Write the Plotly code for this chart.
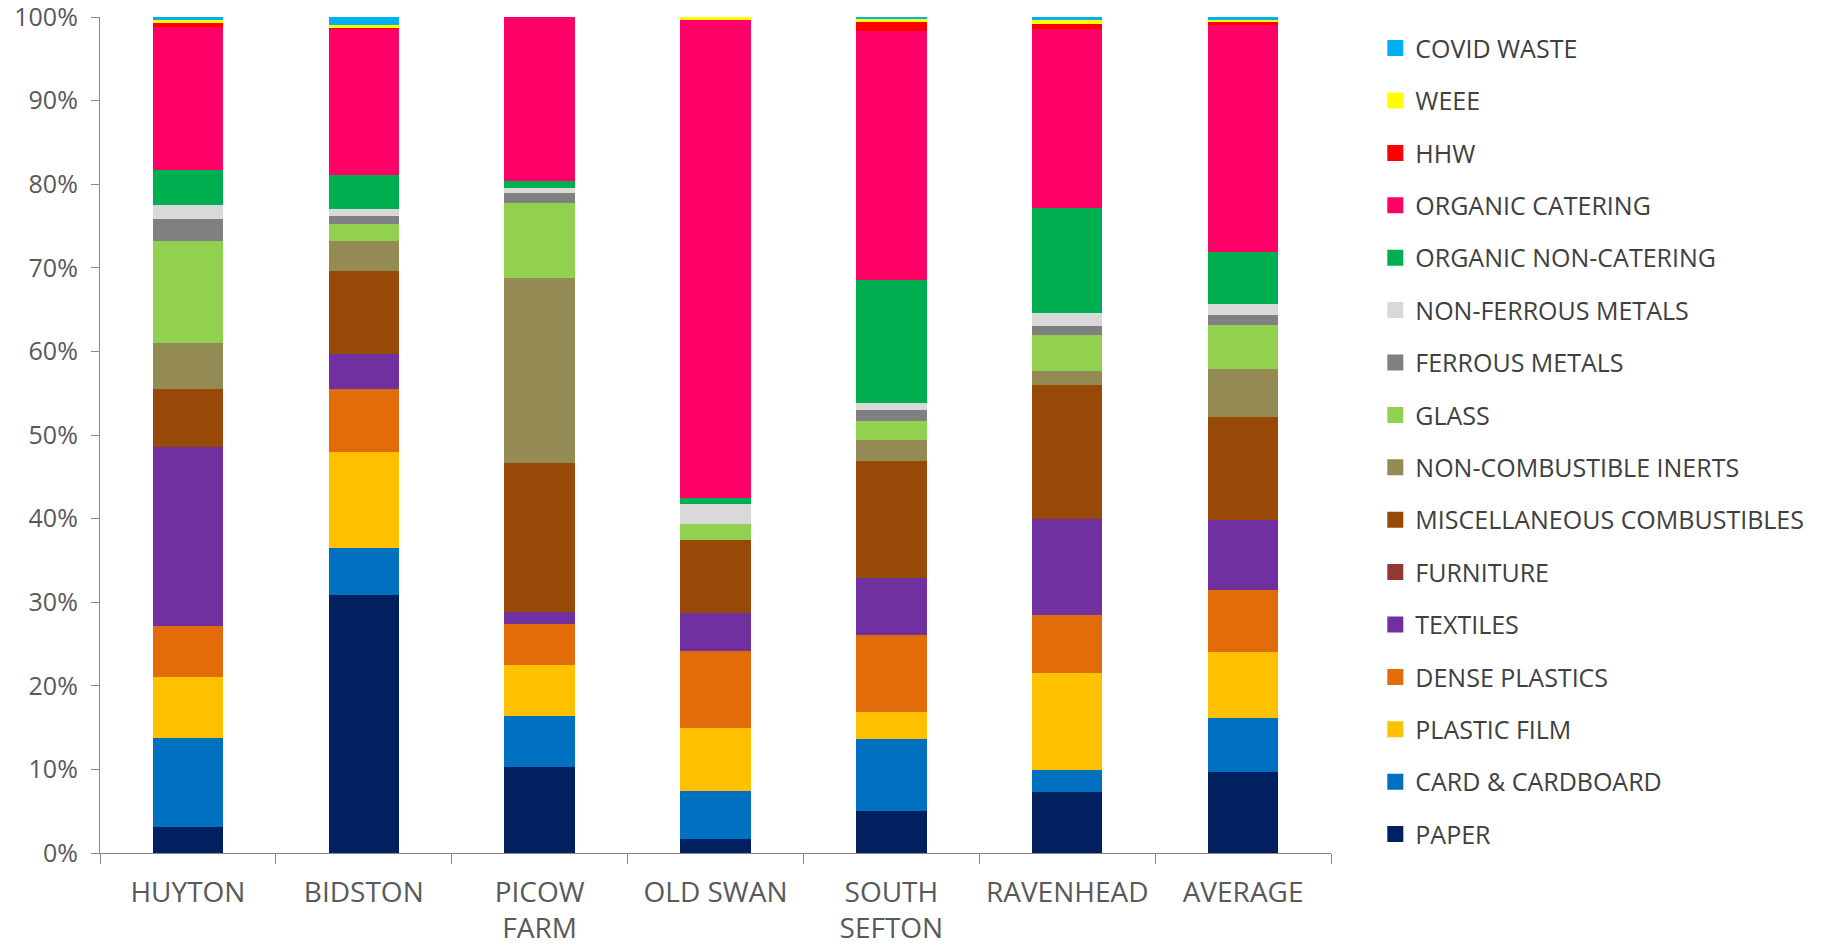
import plotly.graph_objects as go

# Sites along the x axis
sites = ["HUYTON", "BIDSTON", "PICOW<br>FARM", "OLD SWAN", "SOUTH<br>SEFTON", "RAVENHEAD", "AVERAGE"]

# Composition (% of sample) per waste category, one value per site
paper              = [3.1, 30.9, 10.3, 1.7, 5.0, 7.3, 9.7]
card_cardboard     = [10.6, 5.6, 6.1, 5.7, 8.6, 2.6, 6.5]
plastic_film       = [7.4, 11.5, 6.1, 7.5, 3.3, 11.6, 7.9]
dense_plastics     = [6.1, 7.5, 4.9, 9.3, 9.2, 7.0, 7.4]
textiles           = [21.4, 4.2, 1.4, 4.5, 6.8, 11.4, 8.3]
furniture          = [0.0, 0.0, 0.0, 0.0, 0.0, 0.0, 0.0]
misc_combustibles  = [6.9, 9.9, 17.9, 8.8, 14.0, 16.1, 12.3]
non_comb_inerts    = [5.5, 3.6, 22.1, 0.0, 2.5, 1.7, 5.8]
glass              = [12.2, 2.0, 8.9, 1.9, 2.3, 4.3, 5.3]
ferrous_metals     = [2.6, 1.0, 1.2, 0.0, 1.3, 1.0, 1.2]
non_ferrous_metals = [1.7, 0.8, 0.7, 2.3, 0.8, 1.6, 1.3]
organic_non_cat    = [4.2, 4.1, 0.8, 0.8, 14.8, 12.6, 6.2]
organic_catering   = [17.1, 17.5, 19.6, 57.1, 29.7, 21.4, 27.1]
hhw                = [0.5, 0.1, 0.0, 0.0, 1.1, 0.6, 0.4]
weee               = [0.4, 0.4, 0.0, 0.4, 0.4, 0.4, 0.3]
covid_waste        = [0.3, 0.9, 0.0, 0.0, 0.2, 0.4, 0.3]

# Stacking order, bottom to top
series = [
    ("PAPER", paper, "#002060"),
    ("CARD & CARDBOARD", card_cardboard, "#0070C0"),
    ("PLASTIC FILM", plastic_film, "#FFC000"),
    ("DENSE PLASTICS", dense_plastics, "#E36C0A"),
    ("TEXTILES", textiles, "#7030A0"),
    ("FURNITURE", furniture, "#953735"),
    ("MISCELLANEOUS COMBUSTIBLES", misc_combustibles, "#984807"),
    ("NON-COMBUSTIBLE INERTS", non_comb_inerts, "#948A54"),
    ("GLASS", glass, "#92D050"),
    ("FERROUS METALS", ferrous_metals, "#808080"),
    ("NON-FERROUS METALS", non_ferrous_metals, "#D9D9D9"),
    ("ORGANIC NON-CATERING", organic_non_cat, "#00B050"),
    ("ORGANIC CATERING", organic_catering, "#FF0066"),
    ("HHW", hhw, "#FF0000"),
    ("WEEE", weee, "#FFFF00"),
    ("COVID WASTE", covid_waste, "#00B0F0"),
]

FONT = "Open Sans"
TXT = "#595959"
AXIS = "#898989"

fig = go.Figure()

for name, vals, col in series:
    fig.add_trace(go.Bar(
        x=sites, y=[v / 100 for v in vals], name=name,
        marker=dict(color=col, line=dict(width=0)),
        showlegend=False,
    ))

# Legend entries with larger square swatches, listed top (COVID) to bottom (PAPER)
for rank, (name, vals, col) in enumerate(reversed(series)):
    fig.add_trace(go.Scatter(
        x=[None], y=[None], mode="markers", name=name,
        marker=dict(symbol="square", size=16, color=col),
        legendgroup=name, legendrank=rank + 1, showlegend=True,
    ))

fig.update_layout(
    barmode="stack",
    bargap=0.6,
    width=1827, height=948,
    margin=dict(l=100, r=496, t=17, b=95, autoexpand=False),
    paper_bgcolor="white", plot_bgcolor="white",
    font=dict(family=FONT, color=TXT, size=24),
    legend=dict(
        x=1.036, xanchor="left", y=0.99, yanchor="top",
        traceorder="grouped", tracegroupgap=16.9, maxheight=948,
        font=dict(family=FONT, size=25, color="#404040"),
        bgcolor="rgba(0,0,0,0)", itemsizing="trace",
    ),
)

fig.update_yaxes(
    range=[0, 1], dtick=0.1, tickformat=".0%",
    showgrid=False, zeroline=False, automargin=False,
    showline=True, linecolor=AXIS, linewidth=1.3,
    ticks="outside", ticklen=8, tickcolor=AXIS, tickwidth=1.3,
    tickfont=dict(family=FONT, size=25, color=TXT),
    ticklabelstandoff=8, ticklabeloverflow="allow",
)
fig.update_xaxes(
    type="category", tickson="boundaries", automargin=False,
    showgrid=False, showline=True, linecolor=AXIS, linewidth=1.3,
    ticks="outside", ticklen=10, tickcolor=AXIS, tickwidth=1.3,
    tickfont=dict(family=FONT, size=28, color=TXT),
    ticklabelstandoff=14, ticklabeloverflow="allow",
)

fig.write_html("out.html")
